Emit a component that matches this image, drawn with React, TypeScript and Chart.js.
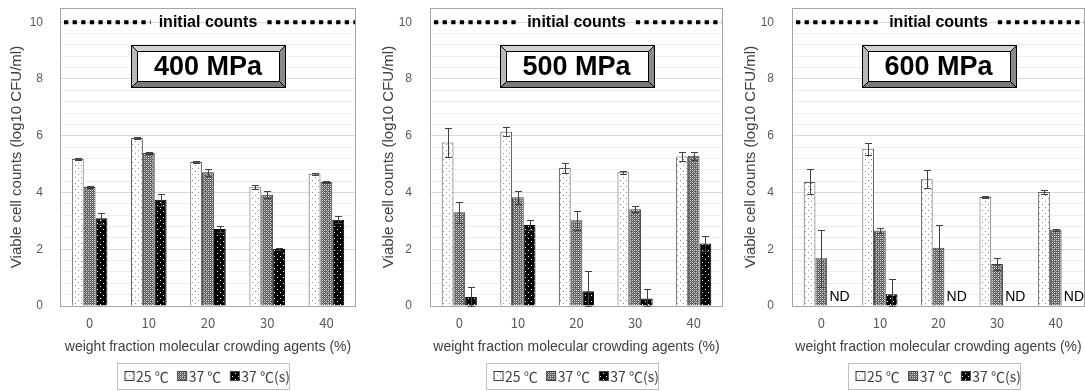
import React, { useEffect, useRef } from 'react';
import { Chart, registerables } from 'chart.js';
Chart.register(...registerables);

// ---------- data ----------
const categories = ['0', '10', '20', '30', '40'];
const seriesLabels = ['25 ℃', '37 ℃', '37 ℃(s)'];
const initialCount = 10;
const xTitle = 'weight fraction molecular crowding agents (%)';
const yTitle = 'Viable cell counts (log10 CFU/ml)';
const initialLabel = 'initial counts';

const p400Title = '400 MPa';
const p400_25 = [5.18, 5.92, 5.07, 4.18, 4.66];
const p400_37 = [4.19, 5.39, 4.71, 3.92, 4.37];
const p400_37s = [3.09, 3.74, 2.71, 2.01, 3.04];
const p400_25err = [0.03, 0.05, 0.04, 0.07, 0.03];
const p400_37err = [0.03, 0.03, 0.12, 0.12, 0.03];
const p400_37serr = [0.2, 0.2, 0.1, 0.05, 0.12];

const p500Title = '500 MPa';
const p500_25 = [5.76, 6.14, 4.86, 4.71, 5.27];
const p500_37 = [3.3, 3.83, 3.02, 3.41, 5.29];
const p500_37s = [0.32, 2.85, 0.52, 0.26, 2.2];
const p500_25err = [0.5, 0.16, 0.17, 0.05, 0.17];
const p500_37err = [0.37, 0.22, 0.33, 0.1, 0.15];
const p500_37serr = [0.35, 0.18, 0.7, 0.35, 0.27];

const p600Title = '600 MPa';
const p600_25 = [4.37, 5.54, 4.47, 3.84, 4.02];
const p600_37 = [1.68, 2.66, 2.05, 1.48, 2.69];
const p600_37s = [null, 0.41, null, null, null];
const p600_25err = [0.44, 0.22, 0.32, 0.03, 0.08];
const p600_37err = [1.0, 0.08, 0.8, 0.2, 0.03];
const p600_37serr = [0, 0.55, 0, 0, 0];
const ndLabel = 'ND';

// ---------- layout per panel ----------
const panels = [
  { title: p400Title, values: [p400_25, p400_37, p400_37s], errors: [p400_25err, p400_37err, p400_37serr], width: 362, yw: 60, yTitlePad: 8, yTickPad: 17, rightPad: 6 },
  { title: p500Title, values: [p500_25, p500_37, p500_37s], errors: [p500_25err, p500_37err, p500_37serr], width: 362, yw: 68, yTitlePad: 18, yTickPad: 18, rightPad: 1 },
  { title: p600Title, values: [p600_25, p600_37, p600_37s], errors: [p600_25err, p600_37err, p600_37serr], width: 362, yw: 68, yTitlePad: 18, yTickPad: 18, rightPad: 1 },
];

const SANS = '"Liberation Sans", Arial, sans-serif';
const CJK = '"Noto Sans CJK JP", "Liberation Sans", sans-serif';

function makePattern(kind: number): CanvasPattern | string {
  const c = document.createElement('canvas');
  const ctx = c.getContext('2d');
  if (!ctx) return '#888';
  if (kind === 0) {
    c.width = 6; c.height = 6;
    ctx.fillStyle = '#ffffff'; ctx.fillRect(0, 0, 6, 6);
    ctx.fillStyle = '#8c8c8c';
    ctx.fillRect(0, 0, 1, 1); ctx.fillRect(3, 3, 1, 1);
  } else if (kind === 1) {
    c.width = 4; c.height = 4;
    ctx.fillStyle = '#5e5e5e'; ctx.fillRect(0, 0, 4, 4);
    ctx.fillStyle = '#d4d4d4';
    ctx.fillRect(0, 0, 1, 1); ctx.fillRect(2, 2, 1, 1); ctx.fillRect(0, 2, 1, 1); ctx.fillRect(2, 0, 1, 1);
    ctx.fillStyle = '#9a9a9a';
    ctx.fillRect(1, 1, 1, 1); ctx.fillRect(3, 3, 1, 1);
  } else {
    c.width = 6; c.height = 6;
    ctx.fillStyle = '#000000'; ctx.fillRect(0, 0, 6, 6);
    ctx.fillStyle = '#ffffff';
    ctx.fillRect(1, 1, 1, 1); ctx.fillRect(4, 4, 1, 1);
  }
  return ctx.createPattern(c, 'repeat') as CanvasPattern;
}

function Panel(props: { p: typeof panels[number] }) {
  const ref = useRef<HTMLCanvasElement | null>(null);
  const p = props.p;
  useEffect(() => {
    if (!ref.current) return;
    const patterns = [makePattern(0), makePattern(1), makePattern(2)];
    const borderColors = ['#595959', '#404040', '#000000'];

    const extras = {
      id: 'extras',
      afterDatasetsDraw(chart: any) {
        const ctx = chart.ctx;
        const ca = chart.chartArea;
        const ys = chart.scales.y;
        const xs = chart.scales.x;
        // plot border
        ctx.save();
        ctx.strokeStyle = '#a6a6a6';
        ctx.lineWidth = 1;
        ctx.strokeRect(Math.round(ca.left) + 0.5, Math.round(ca.top) + 0.5, Math.round(ca.right - ca.left) - 1, Math.round(ca.bottom - ca.top));
        ctx.restore();
        // error bars and ND
        const catW = xs.getPixelForValue(1) - xs.getPixelForValue(0);
        const bw = (catW * 0.6) / 3;
        chart.data.datasets.forEach((ds: any, di: number) => {
          const meta = chart.getDatasetMeta(di);
          const errs = p.errors[di];
          ds.data.forEach((v: number | null, j: number) => {
            let x = meta.data[j] ? meta.data[j].x : NaN;
            if (!isFinite(x)) x = xs.getPixelForValue(j) + bw * (di - 1);
            if (v === null || v === undefined) {
              ctx.save();
              ctx.fillStyle = '#000';
              ctx.font = '14px ' + SANS;
              ctx.textAlign = 'center';
              ctx.textBaseline = 'middle';
              ctx.fillText(ndLabel, x + 6.5, ys.getPixelForValue(0) - 9);
              ctx.restore();
              return;
            }
            const e = errs[j];
            if (!e) return;
            const y1 = Math.round(ys.getPixelForValue(v + e)) + 0.5;
            const y2 = Math.round(ys.getPixelForValue(Math.max(0, v - e))) + 0.5;
            const xx = Math.round(x) + 0.5;
            ctx.save();
            ctx.strokeStyle = '#404040';
            ctx.lineWidth = 1;
            ctx.beginPath();
            ctx.moveTo(xx, y1); ctx.lineTo(xx, y2);
            ctx.moveTo(xx - 3.5, y1); ctx.lineTo(xx + 3.5, y1);
            ctx.moveTo(xx - 3.5, y2); ctx.lineTo(xx + 3.5, y2);
            ctx.stroke();
            ctx.restore();
          });
        });
        // initial counts line
        const cx = (ca.left + ca.right) / 2;
        const yl = ys.getPixelForValue(initialCount);
        ctx.save();
        ctx.font = 'bold 16px ' + SANS;
        const tw = ctx.measureText(initialLabel).width;
        ctx.strokeStyle = '#000';
        ctx.lineWidth = 4;
        ctx.setLineDash([4.3, 4.3]);
        ctx.beginPath();
        ctx.moveTo(ca.left + 4, yl); ctx.lineTo(cx - tw / 2 - 8, yl);
        ctx.stroke();
        ctx.beginPath();
        ctx.moveTo(cx + tw / 2 + 10, yl); ctx.lineTo(ca.right - 1, yl);
        ctx.stroke();
        ctx.setLineDash([]);
        ctx.fillStyle = '#000';
        ctx.textAlign = 'center';
        ctx.textBaseline = 'middle';
        ctx.fillText(initialLabel, cx, yl);
        ctx.restore();
        // title box with bevel
        const bwid = 154, bh = 42, bev = 6;
        const bx = Math.round(cx - bwid / 2) + 0.5;
        const by = Math.round(ys.getPixelForValue(9.18)) + 0.5;
        ctx.save();
        ctx.fillStyle = '#d0d0d0';
        ctx.beginPath(); ctx.moveTo(bx, by); ctx.lineTo(bx + bwid, by); ctx.lineTo(bx + bwid - bev, by + bev); ctx.lineTo(bx + bev, by + bev); ctx.closePath(); ctx.fill();
        ctx.fillStyle = '#b8b8b8';
        ctx.beginPath(); ctx.moveTo(bx, by); ctx.lineTo(bx + bev, by + bev); ctx.lineTo(bx + bev, by + bh - bev); ctx.lineTo(bx, by + bh); ctx.closePath(); ctx.fill();
        ctx.fillStyle = '#8a8a8a';
        ctx.beginPath(); ctx.moveTo(bx + bwid, by); ctx.lineTo(bx + bwid, by + bh); ctx.lineTo(bx + bwid - bev, by + bh - bev); ctx.lineTo(bx + bwid - bev, by + bev); ctx.closePath(); ctx.fill();
        ctx.fillStyle = '#7a7a7a';
        ctx.beginPath(); ctx.moveTo(bx, by + bh); ctx.lineTo(bx + bev, by + bh - bev); ctx.lineTo(bx + bwid - bev, by + bh - bev); ctx.lineTo(bx + bwid, by + bh); ctx.closePath(); ctx.fill();
        ctx.fillStyle = '#fff';
        ctx.fillRect(bx + bev, by + bev, bwid - 2 * bev, bh - 2 * bev);
        ctx.strokeStyle = '#000';
        ctx.lineWidth = 1;
        ctx.strokeRect(bx, by, bwid, bh);
        ctx.strokeRect(bx + bev, by + bev, bwid - 2 * bev, bh - 2 * bev);
        ctx.beginPath();
        ctx.moveTo(bx, by); ctx.lineTo(bx + bev, by + bev);
        ctx.moveTo(bx + bwid, by); ctx.lineTo(bx + bwid - bev, by + bev);
        ctx.moveTo(bx, by + bh); ctx.lineTo(bx + bev, by + bh - bev);
        ctx.moveTo(bx + bwid, by + bh); ctx.lineTo(bx + bwid - bev, by + bh - bev);
        ctx.stroke();
        ctx.fillStyle = '#000';
        ctx.font = 'bold 27px ' + SANS;
        ctx.textAlign = 'center';
        ctx.textBaseline = 'middle';
        ctx.fillText(p.title, cx, by + bh / 2 + 1);
        ctx.restore();
      },
      afterDraw(chart: any) {
        const ctx = chart.ctx;
        const ca = chart.chartArea;
        const cx = (ca.left + ca.right) / 2 - 5;
        const lw = 172, lh = 26;
        const lx = Math.round(cx - lw / 2) + 0.5;
        const ly = 363.5;
        ctx.save();
        ctx.strokeStyle = '#bfbfbf';
        ctx.lineWidth = 1;
        ctx.strokeRect(lx, ly, lw, lh);
        ctx.font = '14px ' + CJK;
        ctx.textBaseline = 'middle';
        ctx.textAlign = 'left';
        let x = lx + 7.5;
        chart.data.datasets.forEach((ds: any) => {
          ctx.fillStyle = ds.backgroundColor;
          ctx.fillRect(x, ly + 8, 9, 9);
          ctx.strokeStyle = '#404040';
          ctx.strokeRect(x, ly + 8, 9, 9);
          x += 11;
          ctx.fillStyle = '#404040';
          ctx.fillText(ds.label, x, ly + 13);
          x += ctx.measureText(ds.label).width + 9;
        });
        ctx.restore();
      },
    };

    const chart = new Chart(ref.current, {
      type: 'bar',
      data: {
        labels: categories,
        datasets: p.values.map((vals, i) => ({
          label: seriesLabels[i],
          data: vals as any,
          backgroundColor: patterns[i] as any,
          borderColor: borderColors[i],
          borderWidth: 1,
          categoryPercentage: 0.6,
          barPercentage: 1.0,
        })),
      },
      options: {
        responsive: false,
        animation: false,
        layout: { padding: { left: 0, right: p.rightPad, top: 8, bottom: 35 } },
        plugins: { legend: { display: false }, tooltip: { enabled: false } },
        scales: {
          x: {
            grid: { display: false, drawTicks: false },
            border: { display: false },
            ticks: { padding: 9, color: '#595959', font: { family: CJK, size: 13 } },
            title: { display: true, text: xTitle, color: '#404040', font: { family: SANS, size: 14 }, padding: 0 },
            afterFit: (s: any) => { s.height = 50; },
          },
          y: {
            min: 0,
            max: 10.5,
            grid: {
              drawTicks: true,
              tickLength: p.yTickPad,
              tickColor: 'rgba(0,0,0,0)',
              color: (c: any) => {
                const v = c.tick.value;
                if (v > 10.01 || v < 0.01) return 'rgba(0,0,0,0)';
                const r = v / 2;
                return Math.abs(r - Math.round(r)) < 1e-6 ? '#d9d9d9' : '#efefef';
              },
            },
            border: { display: false },
            ticks: {
              stepSize: 0.4,
              autoSkip: false,
              padding: 0,
              color: '#595959',
              font: { family: SANS, size: 12 },
              callback: (v: any) => {
                const n = Number(v);
                const r = n / 2;
                return n <= 10.01 && Math.abs(r - Math.round(r)) < 1e-6 ? String(Math.round(n)) : '';
              },
            },
            title: { display: true, text: yTitle, color: '#404040', font: { family: SANS, size: 15 }, padding: { top: p.yTitlePad, bottom: 0 } },
            afterFit: (s: any) => { s.width = p.yw; },
          },
        },
      },
      plugins: [extras],
    });
    return () => chart.destroy();
  }, [p]);
  return <canvas ref={ref} width={p.width} height={391} style={{ display: 'block', width: p.width, height: 391 }} />;
}

export default function App() {
  return (
    <div style={{ position: 'absolute', left: 0, top: 0, width: 1085, height: 391, overflow: 'hidden', display: 'flex', background: '#fff' }}>
      {panels.map((p, i) => (
        <div key={i} style={{ flex: '0 0 auto', width: i === 2 ? 361 : 362, overflow: 'hidden' }}>
          <Panel p={p} />
        </div>
      ))}
    </div>
  );
}
